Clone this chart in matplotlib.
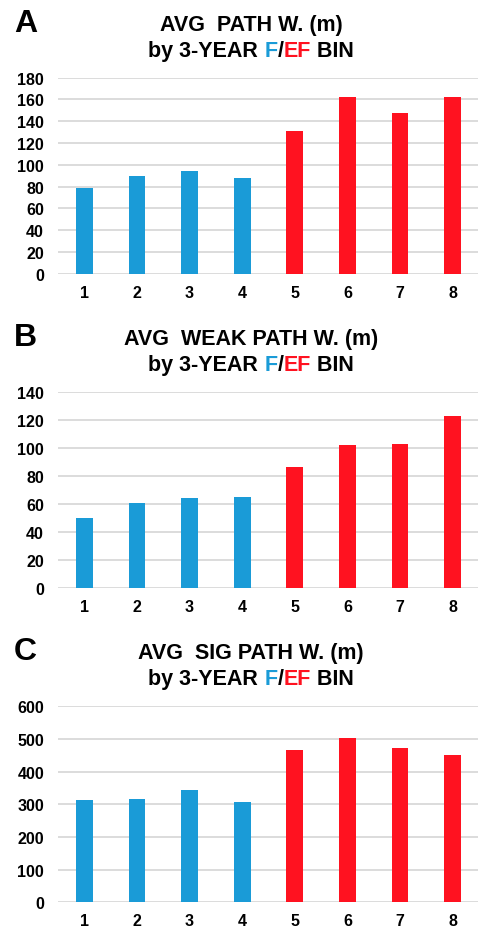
import numpy as np
import matplotlib
matplotlib.use("Agg")
import matplotlib.pyplot as plt

plt.rcParams['font.family'] = ['Liberation Sans', 'DejaVu Sans']
plt.rcParams['font.weight'] = 'bold'

bins = [1, 2, 3, 4, 5, 6, 7, 8]
avg_path_w = [79, 90, 94, 88, 131, 162, 148, 162]
avg_weak_path_w = [50, 60.5, 64, 65, 86, 102, 103, 123]
avg_sig_path_w = [312, 315, 344, 308, 466, 502, 473, 450]

panel_letters = ['A', 'B', 'C']
titles = ['AVG  PATH W. (m)', 'AVG  WEAK PATH W. (m)', 'AVG  SIG PATH W. (m)']
ymax = [180, 140, 600]
ystep = [20, 20, 100]

BLUE = '#1a9bd7'
RED = '#ff1220'
colors = [BLUE] * 4 + [RED] * 4

W, H = 478, 929
fig = plt.figure(figsize=(W / 100, H / 100), dpi=100)
renderer = fig.canvas.get_renderer()

axes_top = [78.7, 392.7, 707.3]
axes_h = 196
ax_left, ax_right = 58, 479
title_cx = 251
TSIZE = 15.5

def px(x, y):
    return x / W, 1 - y / H

def colored_line(cx, cy, parts, size):
    # measure every piece, then lay them out centred on cx
    widths = []
    for s, c in parts:
        t = fig.text(0, 0, s, fontsize=size, fontweight='bold')
        bb = t.get_window_extent(renderer)
        widths.append(bb.width)
        t.remove()
    x = cx - sum(widths) / 2
    for (s, c), w in zip(parts, widths):
        fig.text(*px(x, cy), s, color=c, fontsize=size, fontweight='bold',
                 ha='left', va='baseline')
        x += w

data = [avg_path_w, avg_weak_path_w, avg_sig_path_w]
for i, vals in enumerate(data):
    top = axes_top[i]
    l, b = px(ax_left, top + axes_h)
    ax = fig.add_axes([l, b, (ax_right - ax_left) / W, axes_h / H])
    ax.bar(bins, vals, width=0.32, color=colors, zorder=3)
    ax.set_xlim(0.5, 8.5)
    ax.set_ylim(0, ymax[i])
    ax.set_yticks(np.arange(0, ymax[i] + 1, ystep[i]))
    ax.set_xticks(bins)
    ax.yaxis.grid(True, color='#d9d9d9', linewidth=1.3, zorder=0)
    for s in ax.spines.values():
        s.set_visible(False)
    ax.tick_params(axis='both', length=0, labelsize=11.5)
    ax.tick_params(axis='y', pad=10)
    ax.tick_params(axis='x', pad=8)
    for lab in ax.get_xticklabels() + ax.get_yticklabels():
        lab.set_fontweight('bold')

    fig.text(*px(14, top - 47), panel_letters[i], fontsize=23, fontweight='bold',
             ha='left', va='baseline')
    fig.text(*px(title_cx, top - 48), titles[i], fontsize=TSIZE, fontweight='bold',
             ha='center', va='baseline')
    colored_line(title_cx, top - 22,
                 [('by 3-YEAR ', 'black'), ('F', BLUE), ('/', 'black'),
                  ('EF', RED), (' BIN', 'black')], TSIZE)

fig.savefig('out.png', dpi=100)
